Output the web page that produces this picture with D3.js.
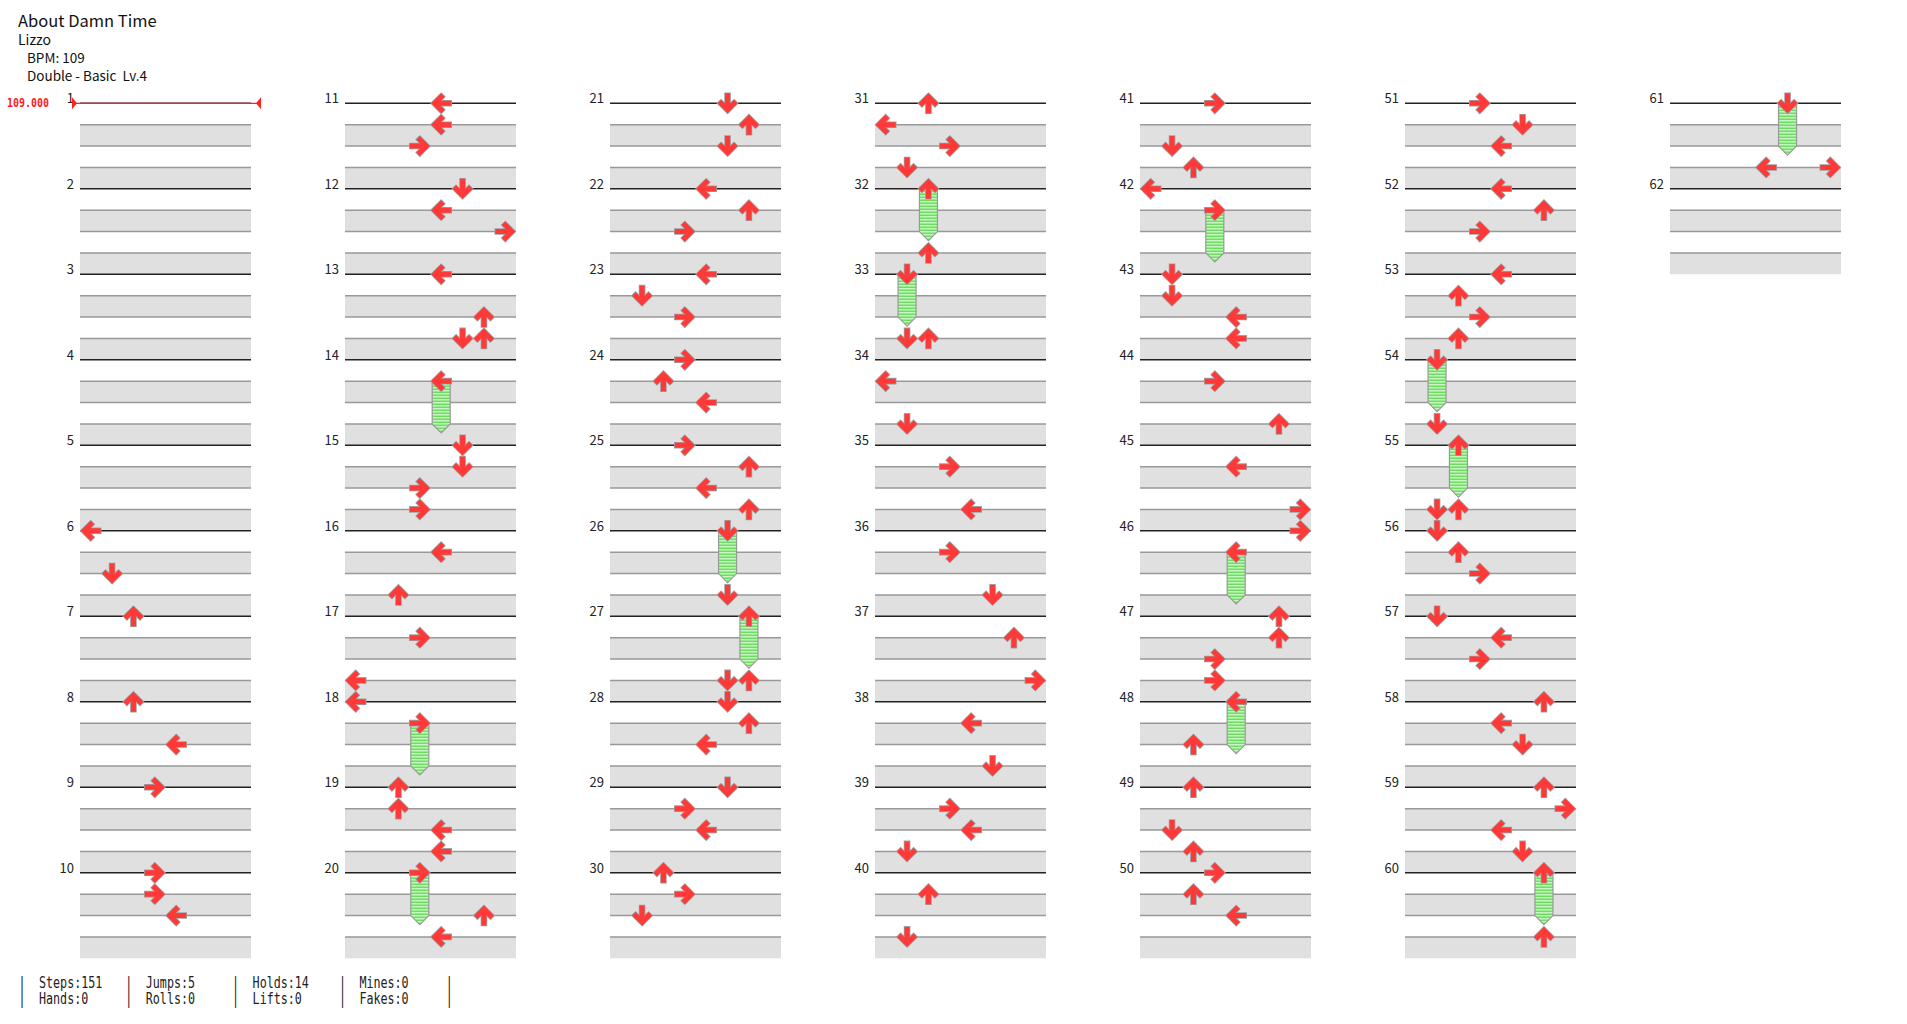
<!DOCTYPE html>
<html>
<head>
<meta charset="utf-8">
<script src="https://cdn.jsdelivr.net/npm/d3@7"></script>
<style>
  body { margin: 0; background: #fff; }
</style>
</head>
<body>
<div id="chart"></div>
<script>
// song info
const titleLines = ["About Damn Time", "Lizzo"];
const infoLines = ["BPM: 109", "Double - Basic  Lv.4"];
const bpmLabel = "109.000";

// 8 panels for doubles
const laneDirs = ["left", "down", "up", "right", "left", "down", "up", "right"];
const measureCount = 62;
const measuresPerColumn = 10;

// taps: [measure, beat, lane]
const taps = [
    [6, 0, 0], [6, 2, 1], [7, 0, 2], [8, 0, 2], [8, 2, 4], [9, 0, 3],
    [10, 0, 3], [10, 1, 3], [10, 2, 4],
    [11, 0, 4], [11, 1, 4], [11, 2, 3], [12, 0, 5], [12, 1, 4], [12, 2, 7],
    [13, 0, 4], [13, 2, 6], [13, 3, 5], [13, 3, 6],
    [15, 0, 5], [15, 1, 5], [15, 2, 3], [15, 3, 3], [16, 1, 4], [16, 3, 2],
    [17, 1, 3], [17, 3, 0], [18, 0, 0],
    [19, 0, 2], [19, 1, 2], [19, 2, 4], [19, 3, 4], [20, 2, 6], [20, 3, 4],
    [21, 0, 5], [21, 1, 6], [21, 2, 5], [22, 0, 4], [22, 1, 6], [22, 2, 3],
    [23, 0, 4], [23, 1, 1], [23, 2, 3], [24, 0, 3], [24, 1, 2], [24, 2, 4],
    [25, 0, 3], [25, 1, 6], [25, 2, 4], [25, 3, 6], [26, 3, 5], [27, 3, 5], [27, 3, 6],
    [28, 0, 5], [28, 1, 6], [28, 2, 4], [29, 0, 5], [29, 1, 3], [29, 2, 4],
    [30, 0, 2], [30, 1, 3], [30, 2, 1],
    [31, 0, 2], [31, 1, 0], [31, 2, 3], [31, 3, 1], [32, 3, 2], [33, 3, 1], [33, 3, 2],
    [34, 1, 0], [34, 3, 1], [35, 1, 3], [35, 3, 4], [36, 1, 3], [36, 3, 5],
    [37, 1, 6], [37, 3, 7], [38, 1, 4], [38, 3, 5], [39, 1, 3], [39, 2, 4], [39, 3, 1],
    [40, 1, 2], [40, 3, 1],
    [41, 0, 3], [41, 2, 1], [41, 3, 2], [42, 0, 0], [43, 0, 1], [43, 1, 1], [43, 2, 4], [43, 3, 4],
    [44, 1, 3], [44, 3, 6], [45, 1, 4], [45, 3, 7], [46, 0, 7],
    [47, 0, 6], [47, 1, 6], [47, 2, 3], [47, 3, 3], [48, 2, 2],
    [49, 0, 2], [49, 2, 1], [49, 3, 2], [50, 0, 3], [50, 1, 2], [50, 2, 4],
    [51, 0, 3], [51, 1, 5], [51, 2, 4], [52, 0, 4], [52, 1, 6], [52, 2, 3],
    [53, 0, 4], [53, 1, 2], [53, 2, 3], [53, 3, 2], [54, 3, 1], [55, 3, 1], [55, 3, 2],
    [56, 0, 1], [56, 1, 2], [56, 2, 3], [57, 0, 1], [57, 1, 4], [57, 2, 3],
    [58, 0, 6], [58, 1, 4], [58, 2, 5], [59, 0, 6], [59, 1, 7], [59, 2, 4], [59, 3, 5],
    [60, 3, 6], [61, 3, 4], [61, 3, 7]
];

// holds: [measure, beat, lane, length in beats]
const holds = [
    [14, 1, 4, 2], [18, 1, 3, 2], [20, 0, 3, 2], [26, 0, 5, 2], [27, 0, 6, 2],
    [32, 0, 2, 2], [33, 0, 1, 2], [42, 1, 3, 2], [46, 1, 4, 2], [48, 0, 4, 2],
    [54, 0, 1, 2], [55, 0, 2, 2], [60, 0, 6, 2], [61, 0, 5, 2]
];

// footer counts, two rows
const statsTop = ["Steps:151", "Jumps:5", "Holds:14", "Mines:0"];
const statsBottom = ["Hands:0", "Rolls:0", "Lifts:0", "Fakes:0"];

const width = 1907, height = 1024;
const svg = d3.select("#chart").append("svg")
    .attr("width", width)
    .attr("height", height)
    .style("font-family", "'Noto Sans CJK JP', 'Noto Sans', sans-serif");

const colScale = d3.scaleLinear().domain([0, 6]).range([80, 1670]);
const laneScale = d3.scaleBand().domain(d3.range(8)).range([0, 171]);
const yScale = d3.scaleLinear().domain([0, measuresPerColumn]).range([103.3, 103.3 + 855]);

const colOf = m => Math.floor((m - 1) / measuresPerColumn);
const rowOf = m => (m - 1) % measuresPerColumn;
const noteX = (m, lane) => colScale(colOf(m)) + laneScale(lane) + laneScale.bandwidth() / 2;
const noteY = (m, beat) => yScale(rowOf(m) + beat / 4);

const defs = svg.append("defs");
const pat = defs.append("pattern")
    .attr("id", "hold-stripes")
    .attr("patternUnits", "userSpaceOnUse")
    .attr("width", 20).attr("height", 3);
pat.append("rect").attr("width", 20).attr("height", 3).attr("fill", "#c6f7c0");
pat.append("rect").attr("y", 1.5).attr("width", 20).attr("height", 1.5).attr("fill", "#6ede62");

// title block
svg.append("text").attr("x", 18).attr("y", 27).style("font-size", "16.5px").attr("fill", "#111").text(titleLines[0]);
svg.append("text").attr("x", 18).attr("y", 45).style("font-size", "14px").attr("fill", "#111").text(titleLines[1]);
infoLines.forEach((t, i) => {
    svg.append("text").attr("x", 27).attr("y", 63 + i * 18)
        .style("font-size", "13.5px").style("white-space", "pre")
        .attr("fill", "#111").text(t);
});

// grid of measures
const measures = d3.range(1, measureCount + 1);
const grid = svg.append("g");
measures.forEach(m => {
    const x0 = colScale(colOf(m));
    const g = grid.append("g");
    [0.25, 0.75].forEach(b => {
        g.append("rect")
            .attr("x", x0)
            .attr("y", yScale(rowOf(m) + b))
            .attr("width", laneScale.range()[1])
            .attr("height", yScale(rowOf(m) + b + 0.25) - yScale(rowOf(m) + b))
            .attr("fill", "#e0e0e0");
    });
    [0.25, 0.5, 0.75].forEach(b => {
        g.append("line")
            .attr("x1", x0).attr("x2", x0 + 171)
            .attr("y1", yScale(rowOf(m) + b)).attr("y2", yScale(rowOf(m) + b))
            .attr("stroke", "#999").attr("stroke-width", 1.4);
    });
    g.append("line")
        .attr("x1", x0).attr("x2", x0 + 171)
        .attr("y1", yScale(rowOf(m))).attr("y2", yScale(rowOf(m)))
        .attr("stroke", "#222").attr("stroke-width", 1.6);
    g.append("text")
        .attr("x", x0 - 6)
        .attr("y", yScale(rowOf(m)))
        .attr("text-anchor", "end")
        .style("font-size", "13px")
        .attr("fill", "#222")
        .text(m);
});

// bpm marker on measure 1
const bpmY = noteY(1, 0);
svg.append("line")
    .attr("x1", 73).attr("x2", 259)
    .attr("y1", bpmY).attr("y2", bpmY)
    .attr("stroke", "#ff2020").attr("stroke-width", 1.3);
svg.append("path")
    .attr("d", `M72,${bpmY - 6}L77,${bpmY}L72,${bpmY + 6}Z`)
    .attr("fill", "#ff2020");
svg.append("path")
    .attr("d", `M261,${bpmY - 6}L256,${bpmY}L261,${bpmY + 6}Z`)
    .attr("fill", "#ff2020");
svg.append("text")
    .attr("transform", `translate(7,${bpmY + 4}) scale(1,1.3)`)
    .style("font-family", "'DejaVu Sans Mono', monospace")
    .style("font-size", "10px")
    .style("font-weight", "bold")
    .attr("fill", "#ff2020")
    .text(bpmLabel);

// arrow pointing up, rotated for other directions
const arrowPath = "M0,-10L10,0L6.5,3.5L2.5,-0.5L2.5,10L-2.5,10L-2.5,-0.5L-6.5,3.5L-10,0Z";
const rot = { up: 0, right: 90, down: 180, left: -90 };

// holds body
svg.append("g").selectAll("path")
    .data(holds)
    .enter()
    .append("path")
    .attr("d", d => {
        const cx = noteX(d[0], d[2]);
        const y0 = noteY(d[0], d[1]);
        const y1 = noteY(d[0], d[1] + d[3]);
        return `M${cx - 9},${y0}L${cx + 9},${y0}L${cx + 9},${y1}L${cx},${y1 + 9}L${cx - 9},${y1}Z`;
    })
    .attr("fill", "url(#hold-stripes)")
    .attr("stroke", "#999")
    .attr("stroke-width", 1.2);

// arrows for taps and hold heads
const heads = taps.concat(holds.map(h => [h[0], h[1], h[2]]));
svg.append("g").selectAll("path")
    .data(heads)
    .enter()
    .append("path")
    .attr("d", arrowPath)
    .attr("transform", d => `translate(${noteX(d[0], d[2])},${noteY(d[0], d[1])}) rotate(${rot[laneDirs[d[2]]]})`)
    .attr("fill", "#ff3838")
    .attr("stroke", "#a0a0a0")
    .attr("stroke-width", 1.6)
    .attr("stroke-linejoin", "miter")
    .style("paint-order", "stroke");

// footer
const footer = svg.append("g")
    .style("font-family", "'DejaVu Sans Mono', monospace")
    .style("font-size", "11.7px")
    .attr("fill", "#222");
const barX = d3.range(5).map(i => 22 + i * 106.8);
[statsTop, statsBottom].forEach((row, r) => {
    const y = 988 + r * 16;
    barX.forEach(x => {
        footer.append("text").attr("transform", `translate(${x - 3.5},${y}) scale(1,1.35)`).text("|");
    });
    row.forEach((t, i) => {
        footer.append("text").attr("transform", `translate(${barX[i] + 17},${y}) scale(1,1.35)`).text(t);
    });
});
</script>
</body>
</html>
